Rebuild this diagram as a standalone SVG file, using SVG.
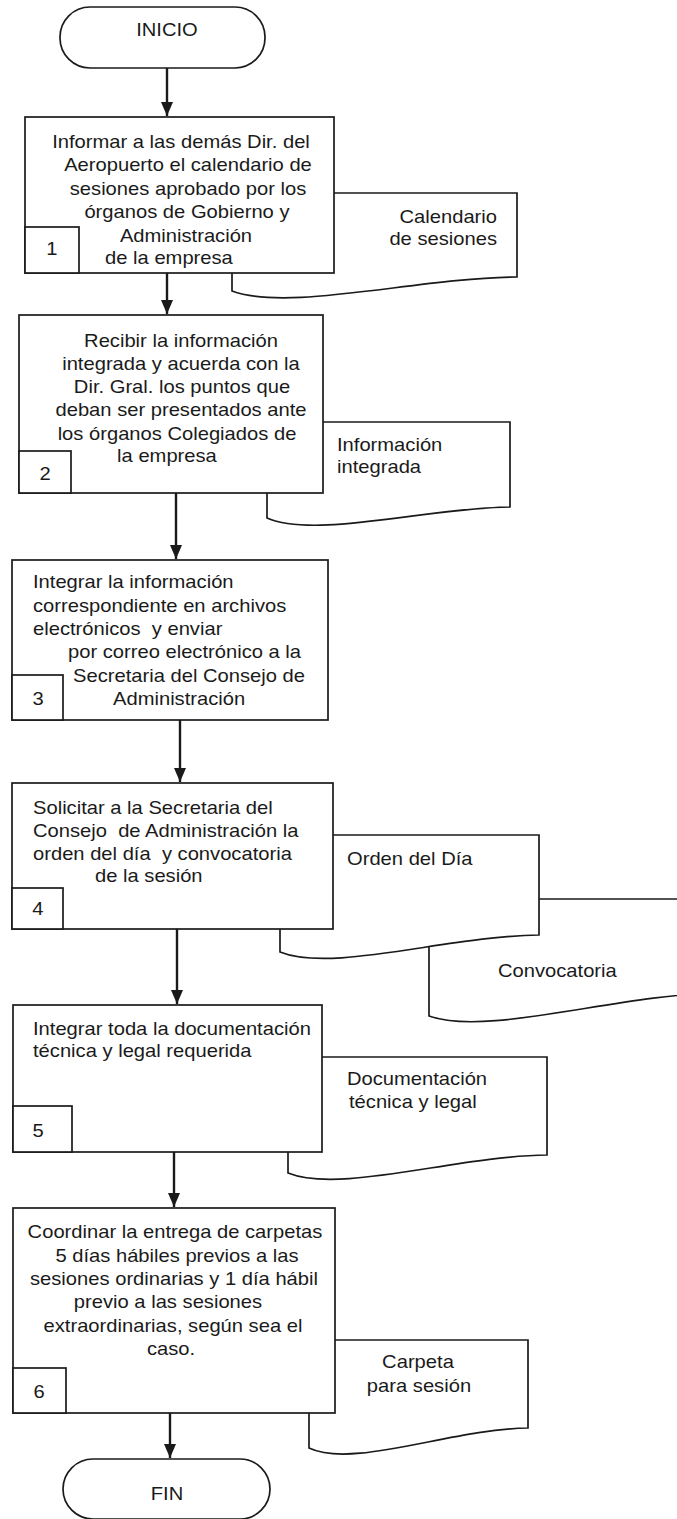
<svg xmlns="http://www.w3.org/2000/svg" width="677" height="1519" viewBox="0 0 677 1519">
<style>
.sh{fill:#fff;stroke:#1a1a1a;stroke-width:1.7;stroke-linejoin:miter}
.ln{fill:none;stroke:#1a1a1a;stroke-width:2.4}
.t{font-family:"Liberation Sans",Arial,sans-serif;font-size:18px;fill:#1a1a1a;white-space:pre;transform-box:fill-box;transform:scaleX(1.12)}
.c{text-anchor:middle;transform-origin:center}
.s{text-anchor:start;transform-origin:left center}
.e{text-anchor:end;transform-origin:right center}
</style>
<defs>
<marker id="ah" markerUnits="userSpaceOnUse" markerWidth="14" markerHeight="12" refX="14" refY="6" orient="auto" viewBox="0 0 14 12">
<path d="M0,0 L14,6 L0,12 z" fill="#1a1a1a"/>
</marker>
</defs>
<rect width="677" height="1519" fill="#fff"/>

<g id="connectors">
<line class="ln" x1="167" y1="68" x2="167" y2="116" marker-end="url(#ah)"/>
<line class="ln" x1="167" y1="273" x2="167" y2="314" marker-end="url(#ah)"/>
<line class="ln" x1="176" y1="493" x2="176" y2="559" marker-end="url(#ah)"/>
<line class="ln" x1="180" y1="720" x2="180" y2="782" marker-end="url(#ah)"/>
<line class="ln" x1="177" y1="929" x2="177" y2="1004" marker-end="url(#ah)"/>
<line class="ln" x1="174" y1="1152" x2="174" y2="1207" marker-end="url(#ah)"/>
<line class="ln" x1="170" y1="1413" x2="170" y2="1458" marker-end="url(#ah)"/>
</g>

<g id="inicio">
<rect class="sh" x="60" y="7" width="205" height="61" rx="30" ry="30"/>
<text class="t c" x="167" y="36">INICIO</text>
</g>

<g id="doc-calendario">
<path class="sh" d="M232,193 H517 V277 C417,278 289,312 232,291 Z"/>
<text class="t e" x="497" y="223">Calendario</text>
<text class="t e" x="497" y="245">de sesiones</text>
</g>

<g id="paso1">
<rect class="sh" x="25" y="117" width="309" height="156"/>
<rect class="sh" x="25" y="227" width="54" height="46"/>
<text class="t c" x="52" y="255">1</text>
<text class="t c" x="181" y="148">Informar a las demás Dir. del</text>
<text class="t c" x="188" y="171">Aeropuerto el calendario de</text>
<text class="t c" x="188" y="195">sesiones aprobado por los</text>
<text class="t c" x="187" y="218">órganos de Gobierno y</text>
<text class="t c" x="186" y="242">Administración</text>
<text class="t c" x="169" y="264">de la empresa</text>
</g>

<g id="doc-informacion">
<path class="sh" d="M267,422 H510 V507 C425,508 316,539 267,518 Z"/>
<text class="t s" x="337" y="451">Información</text>
<text class="t s" x="337" y="473">integrada</text>
</g>

<g id="paso2">
<rect class="sh" x="19" y="315" width="304" height="178"/>
<rect class="sh" x="19" y="451" width="52" height="42"/>
<text class="t c" x="45" y="480">2</text>
<text class="t c" x="181" y="347">Recibir la información</text>
<text class="t c" x="181" y="370">integrada y acuerda con la</text>
<text class="t c" x="182" y="393">Dir. Gral. los puntos que</text>
<text class="t c" x="181" y="416">deban ser presentados ante</text>
<text class="t c" x="177" y="440">los órganos Colegiados de</text>
<text class="t c" x="167" y="462">la empresa</text>
</g>

<g id="paso3">
<rect class="sh" x="12" y="560" width="316" height="160"/>
<rect class="sh" x="12" y="675" width="51" height="45"/>
<text class="t c" x="38" y="705">3</text>
<text class="t s" x="33" y="588">Integrar la información</text>
<text class="t s" x="33" y="612">correspondiente en archivos</text>
<text class="t s" x="33" y="635">electrónicos  y enviar</text>
<text class="t s" x="68" y="658">por correo electrónico a la</text>
<text class="t s" x="73" y="682">Secretaria del Consejo de</text>
<text class="t s" x="113" y="705">Administración</text>
</g>

<g id="doc-convocatoria">
<path class="sh" d="M429,899 H720 V993 C618,994 487,1037 429,1016 Z"/>
<text class="t s" x="498" y="977">Convocatoria</text>
</g>

<g id="doc-orden">
<path class="sh" d="M280,835 H539 V935 C448,936 332,973 280,952 Z"/>
<text class="t s" x="347" y="865">Orden del Día</text>
</g>

<g id="paso4">
<rect class="sh" x="12" y="783" width="321" height="146"/>
<rect class="sh" x="12" y="888" width="51" height="41"/>
<text class="t c" x="38" y="915">4</text>
<text class="t s" x="33" y="814">Solicitar a la Secretaria del</text>
<text class="t s" x="33" y="837">Consejo  de Administración la</text>
<text class="t s" x="33" y="860">orden del día  y convocatoria</text>
<text class="t s" x="95" y="882">de la sesión</text>
</g>

<g id="doc-documentacion">
<path class="sh" d="M288,1057 H547 V1155 C456,1156 340,1194 288,1173 Z"/>
<text class="t s" x="347" y="1085">Documentación</text>
<text class="t s" x="349" y="1108">técnica y legal</text>
</g>

<g id="paso5">
<rect class="sh" x="13" y="1005" width="309" height="147"/>
<rect class="sh" x="13" y="1106" width="59" height="46"/>
<text class="t c" x="38" y="1137">5</text>
<text class="t s" x="33" y="1035">Integrar toda la documentación</text>
<text class="t s" x="33" y="1057">técnica y legal requerida</text>
</g>

<g id="doc-carpeta">
<path class="sh" d="M309,1340 H528 V1428 C451,1429 353,1469 309,1448 Z"/>
<text class="t c" x="418" y="1368">Carpeta</text>
<text class="t c" x="419" y="1392">para sesión</text>
</g>

<g id="paso6">
<rect class="sh" x="13" y="1208" width="322" height="205"/>
<rect class="sh" x="13" y="1368" width="53" height="45"/>
<text class="t c" x="39" y="1398">6</text>
<text class="t c" x="175" y="1238">Coordinar la entrega de carpetas</text>
<text class="t c" x="177" y="1262">5 días hábiles previos a las</text>
<text class="t c" x="174" y="1285">sesiones ordinarias y 1 día hábil</text>
<text class="t c" x="168" y="1308">previo a las sesiones</text>
<text class="t c" x="173" y="1332">extraordinarias, según sea el</text>
<text class="t c" x="171" y="1355">caso.</text>
</g>

<g id="fin">
<rect class="sh" x="63" y="1459" width="207" height="60" rx="30" ry="30"/>
<text class="t c" x="167" y="1500">FIN</text>
</g>
</svg>
